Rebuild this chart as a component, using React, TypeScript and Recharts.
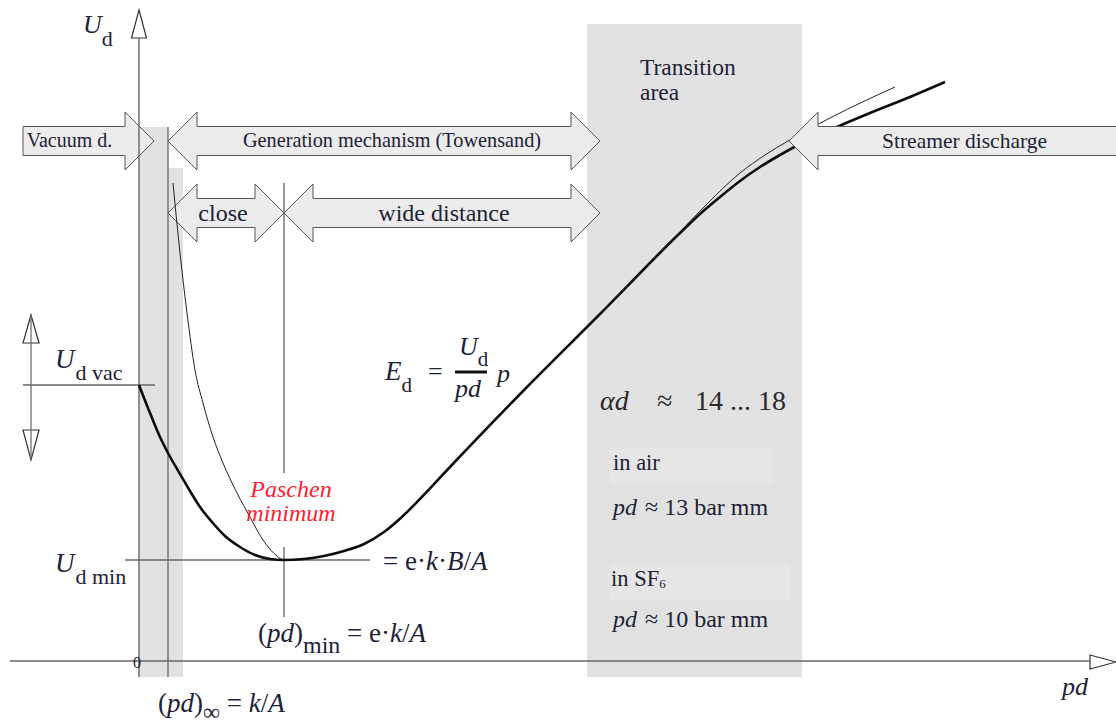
import React from 'react';
import {
  ComposedChart,
  Line,
  XAxis,
  YAxis,
  ReferenceArea,
  ReferenceLine,
  ReferenceDot,
} from 'recharts';

// Paschen curve: breakdown voltage U_d over pd (arbitrary units)
const mainCurvePd = [0, 1.1, 2.1, 2.9, 4.1, 5.1, 6.1, 7.3, 8.6, 10.1, 11.6, 13.1, 14.5, 16.5, 18.5, 20.5, 22.5, 24.5, 26.5, 28.0, 31.1, 38.8, 46.1, 54.1, 56.1, 58.1, 60.1, 62.1, 64.1, 66.1, 69.1, 73.1, 77.1, 80.6];
const mainCurveUd = [27.6, 24.8, 22.4, 20.8, 18.7, 17.0, 15.4, 13.9, 12.5, 11.4, 10.6, 10.2, 10.1, 10.2, 10.5, 11.0, 11.7, 12.9, 14.6, 16.1, 19.4, 27.4, 34.7, 42.8, 44.7, 46.4, 48.0, 49.4, 50.6, 51.7, 53.1, 54.8, 56.4, 57.9];

// Classic Townsend curve without vacuum breakdown
const townsendPd = [3.4, 4.1, 4.8, 5.6, 6.4, 7.4, 8.4, 9.8, 11.1, 12.4, 13.8, 14.5, 16.5, 18.5, 20.5, 22.5, 24.5, 26.5, 28.0, 31.1, 38.8, 46.1, 51.1, 54.1, 56.8, 60.1, 62.6, 64.9, 69.1, 75.6];
const townsendUd = [47.8, 40.8, 34.8, 29.1, 25.8, 22.4, 19.8, 16.8, 14.4, 12.1, 10.5, 10.1, 10.2, 10.5, 11.0, 11.7, 12.9, 14.6, 16.1, 19.4, 27.4, 34.7, 39.7, 42.9, 45.7, 48.8, 50.6, 52.0, 54.3, 57.4];

// Characteristic positions on the axes
const pdInfinity = 2.9;
const pdMin = 14.5;
const udVac = 27.6;
const udMin = 10.1;
const transitionFrom = 44.8;
const transitionTo = 66.3;

const mainCurve = mainCurvePd.map((pd, i) => ({ pd, ud: mainCurveUd[i] }));
const townsendCurve = townsendPd.map((pd, i) => ({ pd, ud: townsendUd[i] }));

const X_DOMAIN: [number, number] = [-13.9, 97.7];
const Y_DOMAIN: [number, number] = [-6.4, 66.1];

const FONT = "'Liberation Serif', 'DejaVu Serif', serif";
const INK = '#1d2236';
const LINE = '#666666';
const BAND = '#e2e2e2';
const ARROW_FILL = '#ececec';
const ARROW_STROKE = '#555555';

type Dir = 'left' | 'right' | 'both';

const txt = (size: number, color = INK, extra: React.CSSProperties = {}) => ({
  style: { fontFamily: FONT, fontSize: size, fill: color, ...extra },
});

function blockArrow(dir: Dir, text: string, dx: number, fontSize: number) {
  return (p: any) => {
    const { x, y, width: w, height: h } = p;
    const hl = 29;
    const ins = h * 0.25;
    const cy = y + h / 2;
    let pts: number[][];
    if (dir === 'both') {
      pts = [
        [x, cy], [x + hl, y], [x + hl, y + ins], [x + w - hl, y + ins], [x + w - hl, y],
        [x + w, cy], [x + w - hl, y + h], [x + w - hl, y + h - ins], [x + hl, y + h - ins], [x + hl, y + h],
      ];
    } else if (dir === 'right') {
      pts = [
        [x, y + ins], [x + w - hl, y + ins], [x + w - hl, y], [x + w, cy],
        [x + w - hl, y + h], [x + w - hl, y + h - ins], [x, y + h - ins],
      ];
    } else {
      pts = [
        [x, cy], [x + hl, y], [x + hl, y + ins], [x + w + 4, y + ins],
        [x + w + 4, y + h - ins], [x + hl, y + h - ins], [x + hl, y + h],
      ];
    }
    return (
      <g>
        <polygon
          points={pts.map((q) => q.join(',')).join(' ')}
          fill={ARROW_FILL}
          stroke={ARROW_STROKE}
          strokeWidth={1}
        />
        <text x={x + w / 2 + dx} y={cy + fontSize * 0.32} textAnchor="middle" {...txt(fontSize)}>
          {text}
        </text>
      </g>
    );
  };
}

function openHead(dir: 'up' | 'down' | 'right') {
  return (p: any) => {
    const { x, y, width: w, height: h } = p;
    let pts: number[][];
    if (dir === 'up') pts = [[x + w / 2, y], [x + w, y + h], [x, y + h]];
    else if (dir === 'down') pts = [[x, y], [x + w, y], [x + w / 2, y + h]];
    else pts = [[x, y], [x + w, y + h / 2], [x, y + h]];
    return (
      <polygon
        points={pts.map((q) => q.join(',')).join(' ')}
        fill="#ffffff"
        stroke="#333333"
        strokeWidth={1.2}
      />
    );
  };
}

function note(key: string, x: number, y: number, content: React.ReactNode) {
  return (
    <ReferenceDot
      key={key}
      x={x}
      y={y}
      r={1}
      ifOverflow="visible"
      shape={(p: any) => (
        <g transform={`translate(${p.cx},${p.cy})`}>{content}</g>
      )}
    />
  );
}

function seg(key: string, x1: number, y1: number, x2: number, y2: number, width = 1.3, color = LINE) {
  return (
    <ReferenceLine
      key={key}
      segment={[{ x: x1, y: y1 }, { x: x2, y: y2 }]}
      stroke={color}
      strokeWidth={width}
      ifOverflow="visible"
    />
  );
}

const it: React.CSSProperties = { fontStyle: 'italic' };

export default function App() {
  return (
    <div style={{ position: 'absolute', left: 0, top: 0, width: 1116, height: 725, background: '#ffffff' }}>
      <ComposedChart width={1116} height={725} margin={{ top: 0, right: 0, bottom: 0, left: 0 }}>
        <XAxis type="number" dataKey="pd" domain={X_DOMAIN} hide allowDataOverflow />
        <YAxis type="number" dataKey="ud" domain={Y_DOMAIN} hide allowDataOverflow />

        {/* Shaded regions: vacuum breakdown band and transition area */}
        <ReferenceArea x1={0} x2={pdInfinity} y1={-1.6} y2={53.4} fill={BAND} fillOpacity={1} stroke="none" ifOverflow="visible" />
        <ReferenceArea x1={pdInfinity} x2={4.4} y1={-1.6} y2={49.3} fill={BAND} fillOpacity={1} stroke="none" ifOverflow="visible" />
        <ReferenceArea x1={transitionFrom} x2={transitionTo} y1={-1.6} y2={63.7} fill={BAND} fillOpacity={1} stroke="none" ifOverflow="visible" />
        <ReferenceArea x1={47.1} x2={63.4} y1={17.6} y2={21.3} fill="#e6e6e6" fillOpacity={1} stroke="none" ifOverflow="visible" />
        <ReferenceArea x1={47.1} x2={65.1} y1={6.1} y2={9.8} fill="#e6e6e6" fillOpacity={1} stroke="none" ifOverflow="visible" />

        {/* Axes */}
        {seg('yaxis', 0, -1.6, 0, 62.3, 1.4)}
        {seg('xaxis', -12.9, 0, 95.1, 0, 1.4)}
        <ReferenceArea x1={-0.75} x2={0.75} y1={62.3} y2={65.1} ifOverflow="visible" shape={openHead('up')} />
        <ReferenceArea x1={95.1} x2={97.7} y1={-0.8} y2={0.6} ifOverflow="visible" shape={openHead('right')} />

        {/* Guide lines */}
        {seg('pdinf', pdInfinity, -1.6, pdInfinity, 53.4, 1.3)}
        {seg('pdmin-top', pdMin, 18.8, pdMin, 47.8, 1.3)}
        {seg('pdmin-bot', pdMin, 4.4, pdMin, 11.4, 1.3)}
        {seg('udvac', -11.6, udVac, 1.6, udVac, 1.3)}
        {seg('udmin', -1.4, udMin, 23.1, udMin, 1.3)}
        {seg('vacrange', -10.8, 20.1, -10.8, 34.6, 1.2)}
        <ReferenceArea x1={-11.6} x2={-10.0} y1={31.8} y2={34.6} ifOverflow="visible" shape={openHead('up')} />
        <ReferenceArea x1={-11.6} x2={-10.0} y1={20.1} y2={23.1} ifOverflow="visible" shape={openHead('down')} />

        {/* Curves */}
        <Line data={townsendCurve} dataKey="ud" type="monotone" stroke="#222222" strokeWidth={1} dot={false} activeDot={false} isAnimationActive={false} />
        <Line data={mainCurve} dataKey="ud" type="monotone" stroke="#0d0d0d" strokeWidth={2.6} dot={false} activeDot={false} isAnimationActive={false} />

        {/* Mechanism arrows */}
        <ReferenceArea x1={-11.6} x2={1.5} y1={49.1} y2={54.9} ifOverflow="visible" shape={blockArrow('right', 'Vacuum d.', -19, 20)} />
        <ReferenceArea x1={pdInfinity} x2={46.1} y1={49.1} y2={54.9} ifOverflow="visible" shape={blockArrow('both', 'Generation mechanism (Towensand)', 8, 20.3)} />
        <ReferenceArea x1={pdInfinity} x2={pdMin} y1={41.9} y2={47.7} ifOverflow="visible" shape={blockArrow('both', 'close', -3, 24)} />
        <ReferenceArea x1={pdMin} x2={46.1} y1={41.9} y2={47.7} ifOverflow="visible" shape={blockArrow('both', 'wide distance', 2, 24)} />
        <ReferenceArea x1={65.0} x2={97.7} y1={49.1} y2={54.9} ifOverflow="visible" zIndex={700} shape={blockArrow('left', 'Streamer discharge', 12, 21.5)} />

        {/* Annotations */}
        {note('ud', -5.6, 62.8, (
          <text {...txt(26)}>
            <tspan style={it}>U</tspan>
            <tspan style={{ fontSize: 22 }} dy={13}>d</tspan>
          </text>
        ))}
        {note('udvac-l', -8.4, 29.3, (
          <text {...txt(27)}>
            <tspan style={it}>U</tspan>
            <tspan style={{ fontSize: 22 }} dy={12} dx={1}>d vac</tspan>
          </text>
        ))}
        {note('udmin-l', -8.4, 8.9, (
          <text {...txt(27)}>
            <tspan style={it}>U</tspan>
            <tspan style={{ fontSize: 22 }} dy={12} dx={1}>d min</tspan>
          </text>
        ))}
        {note('zero', -0.6, -0.7, <text {...txt(16)}>0</text>)}
        {note('pd-axis', 92.3, -3.4, <text {...txt(26, INK, it)}>pd</text>)}
        {note('pdinf-l', 1.9, -5.1, (
          <text {...txt(27)}>
            <tspan>(</tspan><tspan style={it}>pd</tspan><tspan>)</tspan>
            <tspan style={{ fontSize: 24 }} dy={8}>∞</tspan>
            <tspan dy={-8}> = </tspan><tspan style={it}>k</tspan><tspan>/</tspan><tspan style={it}>A</tspan>
          </text>
        ))}
        {note('pdmin-l', 11.9, 1.9, (
          <text {...txt(27)}>
            <tspan>(</tspan><tspan style={it}>pd</tspan><tspan>)</tspan>
            <tspan style={{ fontSize: 24 }} dy={11}>min</tspan>
            <tspan dy={-11}> = e·</tspan><tspan style={it}>k</tspan><tspan>/</tspan><tspan style={it}>A</tspan>
          </text>
        ))}
        {note('udmin-r', 24.4, 9.1, (
          <text {...txt(27)}>
            <tspan>= e·</tspan><tspan style={it}>k</tspan><tspan>·</tspan><tspan style={it}>B</tspan><tspan>/</tspan><tspan style={it}>A</tspan>
          </text>
        ))}
        {note('paschen', 15.2, 16.4, (
          <text textAnchor="middle" {...txt(24, '#ff2030', it)}>Paschen</text>
        ))}
        {note('minimum', 15.2, 14.0, (
          <text textAnchor="middle" {...txt(24, '#ff2030', it)}>minimum</text>
        ))}
        {note('ed', 24.6, 28.1, (
          <g>
            <text {...txt(27)}>
              <tspan style={it}>E</tspan>
              <tspan style={{ fontSize: 21 }} dy={12}>d</tspan>
            </text>
            <text x={43} y={0} {...txt(26)}>=</text>
            <text x={74} y={-25} {...txt(26)}>
              <tspan style={it}>U</tspan>
              <tspan style={{ fontSize: 21 }} dy={11}>d</tspan>
            </text>
            <line x1={70} x2={102} y1={-8} y2={-8} stroke="#111111" strokeWidth={3} />
            <text x={70} y={17} {...txt(26, INK, it)}>pd</text>
            <text x={112} y={2} {...txt(26, INK, it)}>p</text>
          </g>
        ))}
        {note('trans1', 50.1, 58.6, <text {...txt(23.5)}>Transition</text>)}
        {note('trans2', 50.1, 56.1, <text {...txt(23.5)}>area</text>)}
        {note('alpha', 46.1, 25.1, (
          <text {...txt(28, '#2a2a2a')}>
            <tspan style={it}>αd</tspan>
            <tspan x={57}>≈</tspan>
            <tspan x={95}>14 ... 18</tspan>
          </text>
        ))}
        {note('air', 47.4, 19.1, <text {...txt(22.5)}>in air</text>)}
        {note('air-pd', 47.4, 14.6, (
          <text {...txt(24)}>
            <tspan style={it}>pd</tspan>
            <tspan x={32}>≈ 13 bar mm</tspan>
          </text>
        ))}
        {note('sf6', 47.2, 7.5, (
          <text {...txt(22.5)}>
            <tspan>in SF</tspan>
            <tspan style={{ fontSize: 13 }} dy={2}>6</tspan>
          </text>
        ))}
        {note('sf6-pd', 47.4, 3.4, (
          <text {...txt(24)}>
            <tspan style={it}>pd</tspan>
            <tspan x={32}>≈ 10 bar mm</tspan>
          </text>
        ))}
      </ComposedChart>
    </div>
  );
}
